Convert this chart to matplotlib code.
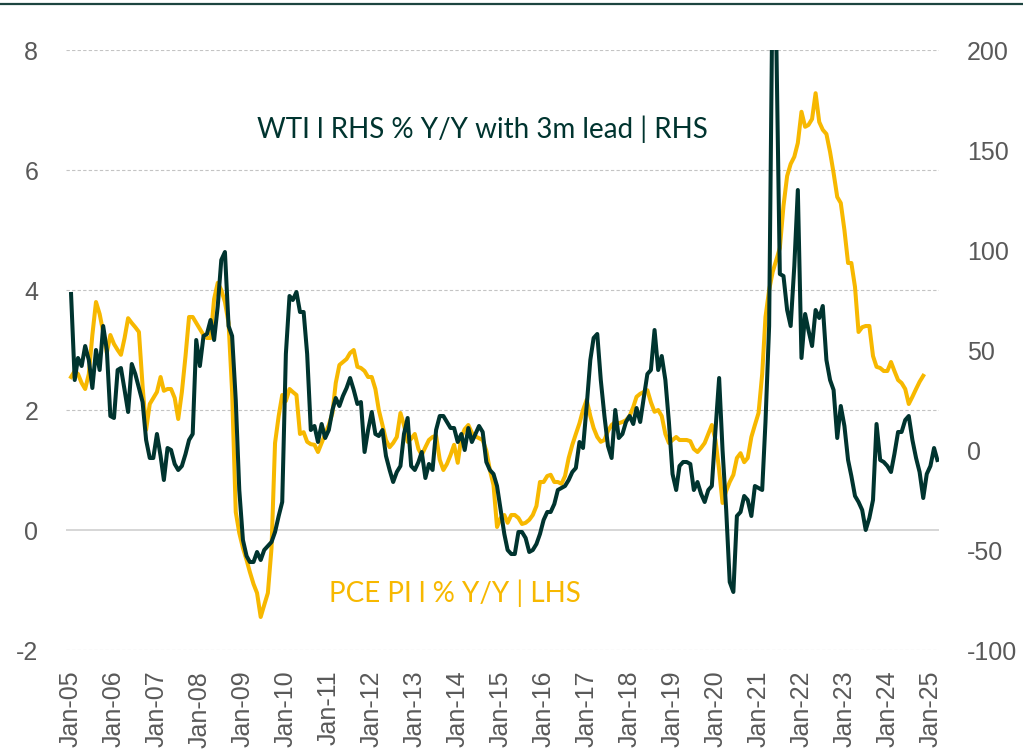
import matplotlib
matplotlib.use("Agg")
import matplotlib.pyplot as plt
from matplotlib.lines import Line2D
import pandas as pd

# PCE price index, % Y/Y (left axis), monthly from Jan-05
pce_yoy = [
    2.55, 2.65, 2.6, 2.45, 2.35, 2.6, 3.25, 3.8, 3.6, 3.3, 2.95, 3.25,
    3.1, 3.0, 2.92, 3.2, 3.53, 3.45, 3.38, 3.3, 2.4, 1.67, 2.1, 2.2,
    2.3, 2.55, 2.32, 2.35, 2.35, 2.2, 1.85, 2.3, 2.9, 3.55, 3.55, 3.45,
    3.35, 3.25, 3.2, 3.2, 3.85, 4.12, 4.0, 3.8, 3.45, 2.3, 0.3, -0.05,
    -0.3, -0.5, -0.7, -0.9, -1.05, -1.45, -1.25, -1.05, -0.3, 1.45, 1.9, 2.25,
    2.15, 2.35, 2.3, 2.25, 1.6, 1.63, 1.47, 1.43, 1.42, 1.3, 1.45, 1.6,
    1.75, 1.95, 2.45, 2.75, 2.8, 2.85, 2.95, 3.0, 2.72, 2.7, 2.65, 2.55,
    2.55, 2.35, 2.0, 1.75, 1.5, 1.38, 1.45, 1.55, 1.95, 1.75, 1.47, 1.52,
    1.6, 1.35, 1.25, 1.38, 1.5, 1.55, 1.57, 1.17, 1.0, 1.1, 1.25, 1.42,
    1.12, 1.55, 1.68, 1.75, 1.62, 1.56, 1.53, 1.5, 1.32, 1.0, 0.75, 0.05,
    0.2, 0.25, 0.12, 0.25, 0.25, 0.2, 0.1, 0.12, 0.17, 0.25, 0.4, 0.8,
    0.8, 0.9, 0.92, 0.8, 0.8, 0.77, 0.9, 1.2, 1.42, 1.6, 1.78, 2.0,
    2.17, 1.9, 1.7, 1.55, 1.47, 1.5, 1.65, 1.75, 1.8, 1.78, 1.8, 1.83,
    1.9, 2.05, 2.22, 2.27, 2.3, 2.33, 2.13, 1.97, 2.0, 1.9, 1.6, 1.45,
    1.5, 1.55, 1.5, 1.5, 1.5, 1.48, 1.35, 1.3, 1.37, 1.45, 1.6, 1.75,
    1.5, 1.0, 0.45, 0.65, 0.8, 0.92, 1.2, 1.28, 1.13, 1.2, 1.55, 1.75,
    1.95, 2.6, 3.55, 4.0, 4.3, 4.5, 4.7, 5.4, 5.9, 6.1, 6.22, 6.45,
    6.97, 6.72, 6.75, 6.85, 7.28, 6.8, 6.67, 6.6, 6.3, 5.95, 5.55, 5.45,
    5.0, 4.45, 4.45, 4.05, 3.3, 3.38, 3.4, 3.4, 2.9, 2.72, 2.7, 2.65,
    2.65, 2.8, 2.65, 2.5, 2.45, 2.35, 2.1, 2.22, 2.35, 2.47, 2.57,
]

# WTI crude, % Y/Y with a 3-month lead (right axis), monthly from Jan-05
wti_yoy_lead3m = [
    78, 35, 46, 42, 52, 45, 31, 50, 40, 62, 50, 17,
    16, 40, 41, 30, 19, 43, 38, 31, 24, 5, -4, -4,
    8, -3, -15, 1, 0, -7, -10, -8, -2, 5, 8, 55,
    42, 57, 58, 65, 55, 72, 95, 99, 62, 57, 25, -20,
    -45, -53, -56, -56, -51, -55, -50, -48, -46, -41, -33, -26,
    48, 77, 75, 79, 69, 69, 48, 10, 12, 4, 13, 6,
    10, 20, 26, 22, 27, 31, 36, 30, 23, 24, -1, 10,
    19, 8, 7, 10, -3, -10, -16, -11, -8, 8, 16, -8,
    -10, -6, -1, -14, -7, -10, 10, 17, 17, 14, 11, 11,
    4, 8, 0, 11, 4, 8, 12, 9, -6, -10, -12, -18,
    -30, -42, -50, -52, -52, -41, -41, -44, -51, -50, -47, -42,
    -35, -31, -31, -27, -20, -19, -18, -15, -11, -9, 4, 1,
    22, 45, 56, 58, 35, 17, 2, -4, 20, 6, 8, 14,
    17, 13, 21, 14, 26, 38, 40, 60, 40, 47, 35, 14,
    -12, -20, -8, -6, -6, -7, -20, -16, -22, -26, -20, -18,
    10, 36, 0, -30, -66, -71, -33, -31, -23, -25, -33, -18,
    -19, -20, 14, 62, 240, 205, 88, 87, 70, 62, 92, 130,
    46, 68, 60, 52, 70, 66, 72, 45, 35, 30, 6, 22,
    12, -5, -13, -23, -26, -30, -40, -34, -25, 13, -5, -6,
    -8, -11, -2, 9, 9, 15, 17, 5, -4, -11, -24, -12,
    -8, 1, -5,
]

tick_years = list(range(2005, 2026))
tick_labels = [f"Jan-{y % 100:02d}" for y in tick_years]
left_ticks = [-2, 0, 2, 4, 6, 8]
right_ticks = [-100, -50, 0, 50, 100, 150, 200]

DARK = "#00342f"
GOLD = "#f7b800"
GREY_TXT = "#595959"
TICK_FONT = "Liberation Sans"
LABEL_FONT = "Lato"

pce_dates = pd.date_range("2005-01-01", periods=len(pce_yoy), freq="MS")
wti_dates = pd.date_range("2005-01-01", periods=len(wti_yoy_lead3m), freq="MS")

W, H = 1023, 750
fig = plt.figure(figsize=(W / 100, H / 100), dpi=100)
ax = fig.add_axes([66 / W, 100 / H, 873 / W, 600 / H])
ax2 = ax.twinx()

# gridlines follow the left-hand scale
for v in left_ticks:
    if v == 0:
        ax.axhline(v, color="#d6d6d6", lw=1.4, zorder=0)
    else:
        ax.axhline(v, color="#c4c4c4", lw=0.8, ls=(0, (3, 2)), zorder=0)

ax.plot(pce_dates, pce_yoy, color=GOLD, lw=2.9, zorder=2)
ax2.plot(wti_dates, wti_yoy_lead3m, color=DARK, lw=2.9, zorder=3)

ax.set_ylim(-2, 8)
ax2.set_ylim(-100, 200)
ax.set_xlim(pd.Timestamp("2004-11-19"), pd.Timestamp("2025-03-15"))

ax.set_yticks(left_ticks)
ax.set_yticklabels([str(v) for v in left_ticks])
ax2.set_yticks(right_ticks)
ax2.set_yticklabels([str(v) for v in right_ticks])
ax.set_xticks([pd.Timestamp(f"{y}-01-01") for y in tick_years])
ax.set_xticklabels(tick_labels, rotation=90)

for a in (ax, ax2):
    for s in a.spines.values():
        s.set_visible(False)
    a.tick_params(axis="both", length=0, labelsize=18, labelcolor=GREY_TXT)
    for lbl in a.get_xticklabels() + a.get_yticklabels():
        lbl.set_fontfamily(TICK_FONT)
ax.tick_params(axis="y", pad=20)
ax2.tick_params(axis="y", pad=20)
ax.tick_params(axis="x", pad=15)

fig.text(482 / W, 1 - 138 / H, "WTI l RHS % Y/Y with 3m lead | RHS",
         ha="center", va="baseline", fontsize=20, color=DARK, family=LABEL_FONT)
fig.text(455 / W, 1 - 602 / H, "PCE PI l % Y/Y | LHS",
         ha="center", va="baseline", fontsize=20, color=GOLD, family=LABEL_FONT)

# rule across the top of the figure
fig.add_artist(Line2D([0, 1], [1 - 4 / H, 1 - 4 / H], transform=fig.transFigure,
                      color="#1d4540", lw=1.6))

fig.savefig("out.png", dpi=100)
